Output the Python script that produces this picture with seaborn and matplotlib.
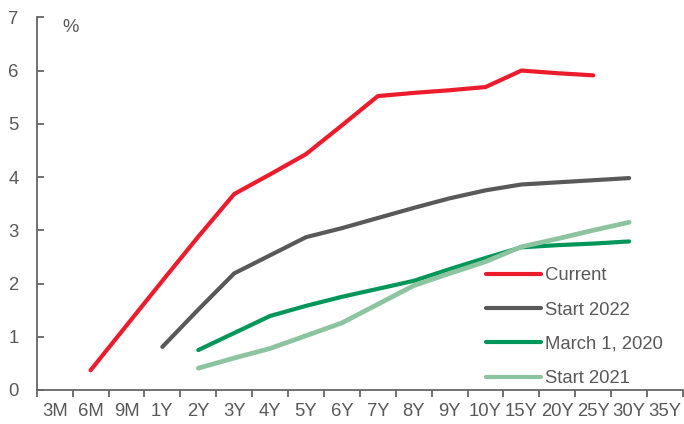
import numpy as np
import pandas as pd
import matplotlib
matplotlib.use("Agg")
import matplotlib.pyplot as plt
from matplotlib.ticker import FixedLocator, NullFormatter
from matplotlib.lines import Line2D
import seaborn as sns

tenors = ['3M', '6M', '9M', '1Y', '2Y', '3Y', '4Y', '5Y', '6Y', '7Y', '8Y', '9Y',
          '10Y', '15Y', '20Y', '25Y', '30Y', '35Y']
current = [None, 0.37, 1.21, 2.05, 2.88, 3.68, 4.05, 4.43, 4.97, 5.52, 5.58, 5.63,
           5.69, 6.00, 5.95, 5.91, None, None]
start_2022 = [None, None, None, 0.81, 1.51, 2.19, 2.53, 2.87, 3.04, 3.23, 3.42, 3.60,
              3.75, 3.86, 3.90, 3.94, 3.98, None]
march_2020 = [None, None, None, None, 0.75, 1.07, 1.39, 1.58, 1.75, 1.90, 2.05, 2.27,
              2.48, 2.68, 2.72, 2.75, 2.79, None]
start_2021 = [None, None, None, None, 0.41, 0.60, 0.78, 1.02, 1.26, 1.61, 1.96, 2.19,
              2.41, 2.69, 2.84, 3.00, 3.15, None]
series_names = ['Current', 'Start 2022', 'March 1, 2020', 'Start 2021']
colors = ['#EC1C2D', '#595959', '#00965A', '#8CC4A0']

rows = []
for name, vals in zip(series_names, [current, start_2022, march_2020, start_2021]):
    for i, v in enumerate(vals):
        if v is not None:
            rows.append({'pos': i, 'value': v, 'series': name})
df = pd.DataFrame(rows)

sns.set_theme(style='white')
plt.rcParams['font.family'] = ['Liberation Sans', 'DejaVu Sans']
text_color = '#595959'
fs = 13.3

fig = plt.figure(figsize=(6.84, 4.24), dpi=100)
ax = fig.add_axes([36.7 / 684, 1 - 390 / 424, (683 - 36.7) / 684, (390 - 17.3) / 424])

sns.lineplot(data=df, x='pos', y='value', hue='series', hue_order=series_names,
             palette=colors, linewidth=3.0, ax=ax, legend=False)
for ln in ax.lines:
    ln.set_solid_capstyle('round')
    ln.set_solid_joinstyle('round')
ax.lines[-1].set_linewidth(3.4)

ax.set_xlim(-0.5, len(tenors) - 0.5)
ax.set_ylim(0, 7)
ax.set_xticks(range(len(tenors)))
ax.set_xticklabels(tenors)
ax.xaxis.set_minor_locator(FixedLocator(np.arange(-0.5, len(tenors), 1.0)))
ax.xaxis.set_minor_formatter(NullFormatter())
ax.tick_params(axis='x', which='major', length=0, pad=9, labelsize=fs, labelcolor=text_color)
ax.tick_params(axis='x', which='minor', length=5, width=1.3, color='#666666', direction='out', bottom=True)
ax.set_yticks(range(0, 8))
ax.tick_params(axis='y', which='major', length=5, width=1.3, color='#666666', direction='in',
               pad=13, labelsize=fs, labelcolor=text_color, left=True)
ax.set_xlabel('')
ax.set_ylabel('')

for side in ['top', 'right']:
    ax.spines[side].set_visible(False)
for side in ['left', 'bottom']:
    ax.spines[side].set_color('#666666')
    ax.spines[side].set_linewidth(1.3)

ax.text(0.039, 0.995, '%', transform=ax.transAxes, ha='left', va='top',
        fontsize=fs, color=text_color)

handles = [Line2D([0], [0], color=c, linewidth=3.0, solid_capstyle='round') for c in colors]
leg = ax.legend(handles, series_names, loc='upper left',
                bbox_to_anchor=(486 / 684, 1 - 267.5 / 424), bbox_transform=fig.transFigure,
                frameon=False, fontsize=fs, handlelength=3.0, handletextpad=0.2,
                labelspacing=0.93, borderpad=0, borderaxespad=0)
for t in leg.get_texts():
    t.set_color(text_color)

fig.savefig('out.png', dpi=100)
